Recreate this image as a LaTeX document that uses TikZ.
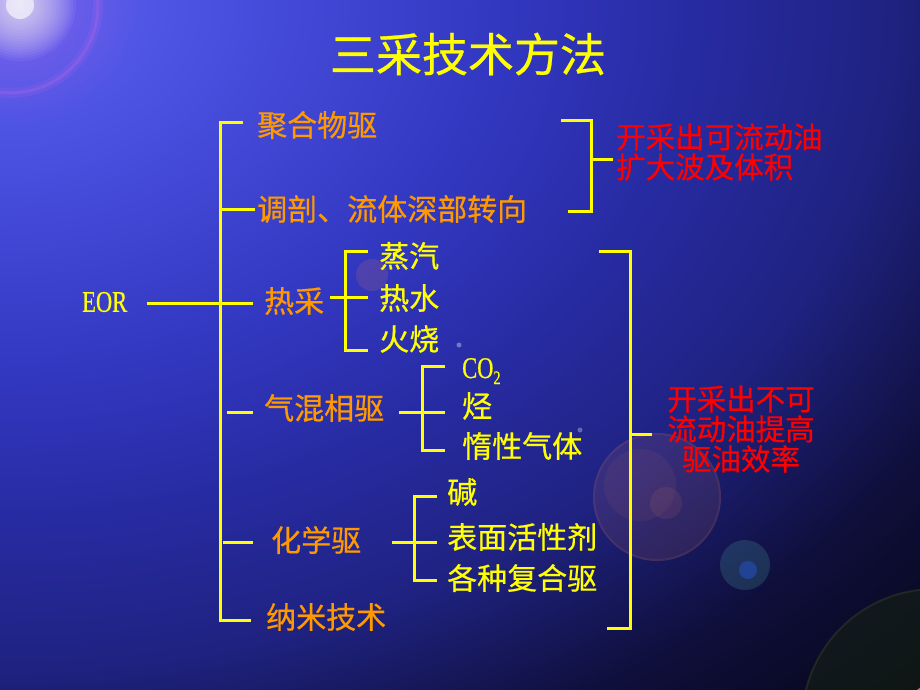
\documentclass[tikz,border=0pt]{standalone}
\usepackage{fontspec}
\setmainfont{Liberation Serif}
\newfontfamily\cjk[FakeBold=0.6]{Noto Sans CJK SC}
\newfontfamily\narrowserif[FakeStretch=0.75,FakeBold=0.6]{Liberation Serif}
\newcommand\tightlines{\lineskiplimit=-40pt\relax\lineskip=0pt\relax}
\definecolor{bga}{RGB}{98,100,240}
\definecolor{bgb}{RGB}{76,82,226}
\definecolor{bgc}{RGB}{50,55,192}
\definecolor{bgd}{RGB}{39,43,162}
\definecolor{bge}{RGB}{31,34,128}
\definecolor{bgf}{RGB}{15,15,60}
\definecolor{bgg}{RGB}{6,6,24}
\definecolor{lineyellow}{RGB}{255,255,0}
\definecolor{itemorange}{RGB}{255,153,0}
\definecolor{itemyellow}{RGB}{255,255,0}
\definecolor{notered}{RGB}{255,0,0}
\definecolor{titleyellow}{RGB}{255,255,0}
\definecolor{ringpink}{RGB}{215,110,235}
\definecolor{flareviolet}{RGB}{175,130,255}
\definecolor{lensorange}{RGB}{210,120,100}
\definecolor{lensteal}{RGB}{70,150,150}
\definecolor{lensblue}{RGB}{40,90,235}
\definecolor{lensgreen}{RGB}{22,36,18}
\definecolor{lensedge}{RGB}{80,85,40}
\pgfdeclareradialshading{bgshade}{\pgfpoint{0bp}{0bp}}{color(0bp)=(bga); color(3.5bp)=(bgb); color(9.75bp)=(bgc); color(13.3bp)=(bgd); color(17.2bp)=(bge); color(21.1bp)=(bgf); color(25bp)=(bgg); color(50bp)=(bgg)}
\begin{document}
\begin{tikzpicture}[x=1pt,y=-1pt,
  link/.style={draw=lineyellow,line width=3pt},
  maintext/.style={font=\cjk\fontsize{30}{33}\selectfont,text=itemorange,anchor=west,inner sep=0pt},
  subtext/.style={font=\cjk\fontsize{30}{33}\selectfont,text=itemyellow,anchor=west,inner sep=0pt},
  notetext/.style={font=\cjk\fontsize{29.5}{30}\selectfont\tightlines,text=notered,inner sep=0pt},
  titletext/.style={font=\cjk\fontsize{46}{50}\selectfont,text=titleyellow,inner sep=0pt},
  latintext/.style={font=\narrowserif\fontsize{30}{33}\selectfont,text=itemyellow,inner sep=0pt}]
\useasboundingbox (0,0) rectangle (920,690);
% background
\begin{scope}
  \clip (0,0) rectangle (920,690);
  \shade[shading=bgshade] (0,0) ellipse [x radius=1300, y radius=973];
  % lens flare top-left
  \coordinate (flare) at (20,5);
  \foreach \i in {1,...,30}
    \fill[flareviolet,opacity=0.02] (flare) circle ({4*\i});
  \foreach \i in {1,...,20}
    \fill[white,opacity=0.055] (flare) circle ({2.8*\i});
  \fill[white,opacity=0.6] (flare) circle (14);
  \draw[ringpink,line width=10pt,opacity=0.12] (10,5) circle (88);
  \draw[ringpink,line width=3pt,opacity=0.2] (10,5) circle (88);
  % soft lens circles
  \fill[lensorange,opacity=0.18] (372,275) circle (16);
  \fill[lensorange,opacity=0.13] (657,497) circle (64);
  \draw[lensorange,line width=2pt,opacity=0.12] (657,497) circle (63);
  \fill[lensorange,opacity=0.08] (640,485) circle (36);
  \fill[lensorange,opacity=0.12] (666,503) circle (16);
  \fill[lensteal,opacity=0.25] (745,565) circle (25);
  \fill[lensblue,opacity=0.4] (748,570) circle (9);
  \fill[white,opacity=0.35] (459,345) circle (2.5);
  \fill[white,opacity=0.30] (580,430) circle (2.5);
  \fill[lensgreen,opacity=0.55] (935,722) circle (133);
  \draw[lensedge,line width=2pt,opacity=0.3] (935,722) circle (133);
\end{scope}

% title
\node[titletext] (title) at (468,54) {三采技术方法};

% root and first level
\node[latintext,anchor=west] (eor) at (82,302) {EOR};
\node[maintext] (juhe) at (257,125) {聚合物驱};
\node[maintext] (tiaopou) at (257,209) {调剖、流体深部转向};
\node[maintext] (recai) at (264,301) {热采};
\node[maintext] (qihun) at (264,408) {气混相驱};
\node[maintext] (huaxue) at (271,540) {化学驱};
\node[maintext] (nami) at (266,617) {纳米技术};

% second level
\node[subtext] (zhengqi) at (379,256) {蒸汽};
\node[subtext] (reshui) at (379,298) {热水};
\node[subtext] (huoshao) at (379,339) {火烧};
\node[latintext,anchor=base west] (co2) at (462,378) {CO\raisebox{-6pt}{\fontsize{19}{19}\selectfont 2}};
\node[subtext] (ting) at (462,406) {烃};
\node[subtext] (duoxing) at (462,446) {惰性气体};
\node[subtext] (jian) at (447,492) {碱};
\node[subtext] (biaomian) at (447,537) {表面活性剂};
\node[subtext] (fuhe) at (447,578) {各种复合驱};

% notes
\node[notetext,align=left,anchor=west] (noteA) at (616,152) {开采出可流动油\\扩大波及体积};
\node[notetext,align=center] (noteB) at (741,429) {开采出不可\\流动油提高\\驱油效率};

% main spine
\coordinate (spTop) at (220,123);
\coordinate (spBot) at (220,620);
\coordinate (tkJuhe) at (243,123);
\coordinate (tkNami) at (251,620);
\coordinate (tkTiaoA) at (222,209);
\coordinate (tkTiaoB) at (255,209);
\coordinate (eorA) at (147,303);
\coordinate (eorB) at (253,303);
\coordinate (tkQiA) at (227,412);
\coordinate (tkQiB) at (253,412);
\coordinate (tkHuaA) at (223,542);
\coordinate (tkHuaB) at (253,542);
\draw[link] (tkJuhe) -- (spTop) -- (spBot) -- (tkNami);
\draw[link] (tkTiaoA) -- (tkTiaoB);
\draw[link] (eorA) -- (eorB);
\draw[link] (tkQiA) -- (tkQiB);
\draw[link] (tkHuaA) -- (tkHuaB);

% 热采 bracket
\coordinate (reStem) at (330,297);
\coordinate (reMid) at (368,297);
\coordinate (reTopA) at (368,251);
\coordinate (reTop) at (345,251);
\coordinate (reBot) at (345,350);
\coordinate (reBotA) at (368,350);
\draw[link] (reStem) -- (reMid);
\draw[link] (reTopA) -- (reTop) -- (reBot) -- (reBotA);

% 气混相驱 bracket
\coordinate (qiStem) at (399,412);
\coordinate (qiMid) at (445,412);
\coordinate (qiTopA) at (445,366);
\coordinate (qiTop) at (422,366);
\coordinate (qiBot) at (422,450);
\coordinate (qiBotA) at (445,450);
\draw[link] (qiStem) -- (qiMid);
\draw[link] (qiTopA) -- (qiTop) -- (qiBot) -- (qiBotA);

% 化学驱 bracket
\coordinate (huStem) at (392,542);
\coordinate (huMid) at (437,542);
\coordinate (huTopA) at (437,496);
\coordinate (huTop) at (414,496);
\coordinate (huBot) at (414,580);
\coordinate (huBotA) at (437,580);
\draw[link] (huStem) -- (huMid);
\draw[link] (huTopA) -- (huTop) -- (huBot) -- (huBotA);

% upper right bracket
\coordinate (raTopA) at (561,121);
\coordinate (raTop) at (591,121);
\coordinate (raBot) at (591,211);
\coordinate (raBotA) at (568,211);
\coordinate (raMid) at (591,159);
\coordinate (raOut) at (613,159);
\draw[link] (raTopA) -- (raTop) -- (raBot) -- (raBotA);
\draw[link] (raMid) -- (raOut);

% lower right bracket
\coordinate (rbTopA) at (599,251);
\coordinate (rbTop) at (630,251);
\coordinate (rbBot) at (630,628);
\coordinate (rbBotA) at (607,628);
\coordinate (rbMid) at (630,434);
\coordinate (rbOut) at (652,434);
\draw[link] (rbTopA) -- (rbTop) -- (rbBot) -- (rbBotA);
\draw[link] (rbMid) -- (rbOut);
\end{tikzpicture}
\end{document}
